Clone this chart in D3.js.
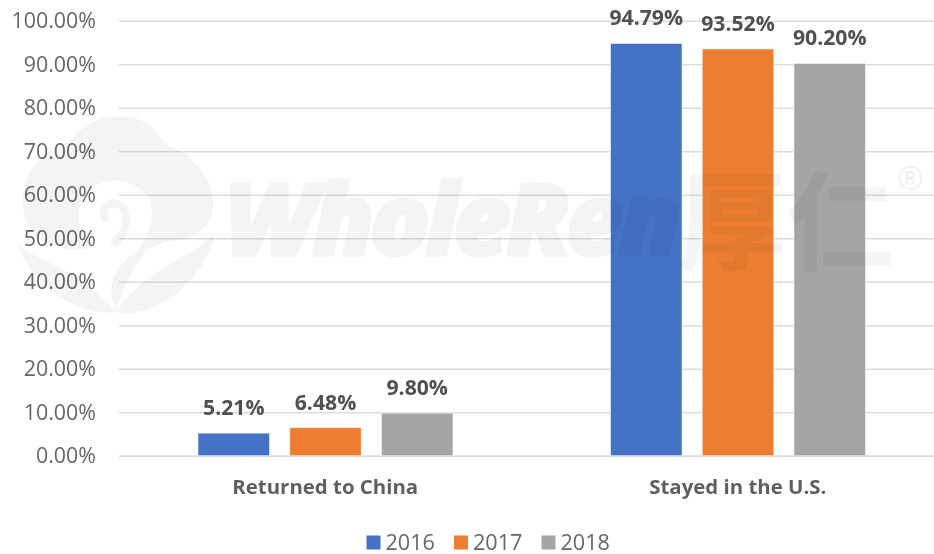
<!DOCTYPE html>
<html><head><meta charset="utf-8">
<script src="https://cdnjs.cloudflare.com/ajax/libs/d3/7.8.5/d3.min.js"></script>
<style>html,body{margin:0;padding:0;background:#fff;overflow:hidden}svg{display:block;filter:blur(0.45px)}text{font-family:"Open Sans",sans-serif}</style>
</head><body><svg id="c" width="934" height="554"></svg>
<script>
const categories = ["Returned to China", "Stayed in the U.S."];
const years = ["2016", "2017", "2018"];
const values2016 = [5.21, 94.79];
const values2017 = [6.48, 93.52];
const values2018 = [9.80, 90.20];
const seriesValues = [values2016, values2017, values2018];
const yTicks = [0,10,20,30,40,50,60,70,80,90,100];
const colors = ["#4472c4", "#ed7d31", "#a5a5a5"];

const svg = d3.select("#c");
const x0 = d3.scaleBand().domain(categories).range([119, 944]);
const y = d3.scaleLinear().domain([0,100]).range([455.8, 20.8]);
const x1 = d3.scaleBand().domain(years).range([79, 334]).paddingInner(0.22).paddingOuter(0);
const fmt = d => d.toFixed(2) + "%";

// gridlines and y axis
const yAxis = d3.axisLeft(y).tickValues(yTicks).tickFormat(fmt).tickSize(-825).tickPadding(23);
const gy = svg.append("g").attr("transform","translate(119,0)").call(yAxis);
gy.select(".domain").remove();
gy.selectAll(".tick line").attr("stroke","#dcdcdc").attr("stroke-width",1.6);
gy.selectAll(".tick text").attr("fill","#666").attr("font-size",21.4).attr("dy","0.33em");

// bars
const groups = svg.append("g").selectAll("g").data(categories).join("g")
  .attr("transform", c => `translate(${x0(c)},0)`);
groups.each(function(c,i){
  const g = d3.select(this);
  years.forEach((yr,k)=>{
    const v = seriesValues[k][i];
    g.append("rect").attr("x",x1(yr)).attr("y",y(v)).attr("width",x1.bandwidth()).attr("height",y(0)-y(v))
      .attr("fill",colors[k]).attr("stroke","#fff").attr("stroke-opacity",0.55).attr("stroke-width",1);
    g.append("text").attr("x",x1(yr)+x1.bandwidth()/2).attr("y",y(v)-18)
      .attr("text-anchor","middle").attr("font-size",21.2).attr("font-weight",700).attr("fill","#505050").text(fmt(v));
  });
});

// category labels
const xAxis = d3.axisBottom(x0).tickSize(0).tickPadding(0);
const gx = svg.append("g").attr("transform","translate(0,455.8)").call(xAxis);
gx.select(".domain").attr("stroke","#dcdcdc").attr("stroke-width",1.6);
gx.selectAll(".tick text").attr("y",38).attr("dy",0).attr("fill","#5f5f5f").attr("font-size",20.4).attr("font-weight",700);

// legend
const lg = svg.append("g");
const legendX = d3.scalePoint().domain(years).range([366.5,541.5]);
years.forEach((yr,k)=>{
  lg.append("rect").attr("x",legendX(yr)).attr("y",535.5).attr("width",14).attr("height",14).attr("fill",colors[k]);
  lg.append("text").attr("x",legendX(yr)+19).attr("y",549.5).attr("font-size",21.6).attr("fill","#666").text(yr);
});

// watermark (decorative logo, multiplied over the chart)
const wm = svg.append("g").style("mix-blend-mode","multiply").attr("fill","#f3f4f5");
wm.append("path").attr("d","M24 215C18 175 40 150 72 140C85 118 125 108 150 125C155 130 162 140 167 145C195 155 214 180 213 205C212 225 198 238 178 240C160 240 150 250 135 255C150 235 155 215 150 200C140 180 105 172 88 192C72 210 78 235 95 247C70 252 35 250 24 215Z");
wm.append("path").attr("d","M105 218C100 208 110 200 120 205C130 212 128 232 115 242").attr("fill","none").attr("stroke","#f3f4f5").attr("stroke-width",8).attr("stroke-linecap","round");
wm.append("path").attr("d","M18 245C40 262 80 270 116 312C85 318 35 290 18 245Z");
wm.append("path").attr("d","M215 232C190 262 140 270 117 312C150 320 205 285 215 232Z");
wm.append("path").attr("d","M115 275C125 255 140 250 150 245C135 265 120 290 117 312C112 300 108 288 115 275Z");
wm.append("text").attr("x",224).attr("y",255).attr("font-size",100).attr("font-weight",800).attr("font-style","italic")
  .attr("letter-spacing",-5).attr("stroke","#f3f4f5").attr("stroke-width",3).attr("paint-order","stroke").text("WholeRen");
wm.append("text").attr("x",678).attr("y",262).attr("font-size",108).attr("font-weight",700).attr("fill","#f5f5f5").style("font-family","Noto Sans CJK SC").text("厚仁");
wm.append("text").attr("x",897).attr("y",190).attr("font-size",32).attr("fill","#f0f0f0").text("®");
</script></body></html>
